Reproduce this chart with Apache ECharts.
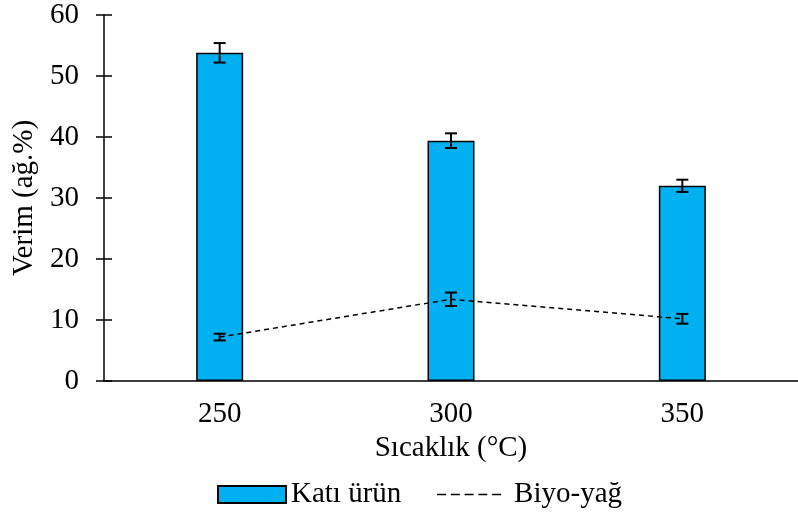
<!DOCTYPE html>
<html><head><meta charset="utf-8">
<script src="https://cdn.jsdelivr.net/npm/echarts@6/dist/echarts.min.js"></script>
<style>html,body{margin:0;padding:0;background:#fff}#c{width:798px;height:517px}</style>
</head><body><div id="c"></div>
<script>
const categories = ['250', '300', '350'];
const katiUrun = [53.8, 39.4, 32.0];
const katiUrunErr = [1.6, 1.2, 1.0];
const biyoYag = [7.2, 13.4, 10.2];
const biyoYagErr = [0.55, 1.1, 0.8];
const yTicks = [0, 10, 20, 30, 40, 50, 60];

const FONT = 'Liberation Serif';
const FS = 29;
const chart = echarts.init(document.getElementById('c'));

function errRender(values, errs) {
  return function (params, api) {
    const i = api.value(0);
    const v = values[i], e = errs[i];
    const top = api.coord([i, v + e]);
    const bot = api.coord([i, v - e]);
    const hw = 6;
    const st = { stroke: '#000', lineWidth: 2 };
    return {
      type: 'group',
      children: [
        { type: 'line', shape: { x1: top[0], y1: top[1], x2: bot[0], y2: bot[1] }, style: st },
        { type: 'line', shape: { x1: top[0] - hw, y1: top[1], x2: top[0] + hw, y2: top[1] }, style: st },
        { type: 'line', shape: { x1: bot[0] - hw, y1: bot[1], x2: bot[0] + hw, y2: bot[1] }, style: st }
      ]
    };
  };
}

const axisLabelStyle = { fontFamily: FONT, fontSize: FS, color: '#000' };

chart.setOption({
  animation: false,
  grid: { left: 104, top: 15, width: 698, height: 366 },
  legend: {
    top: 475, left: 212,
    itemWidth: 68, itemHeight: 17, itemGap: 35,
    textStyle: { fontFamily: FONT, fontSize: FS, color: '#000' },
    data: [
      { name: 'Katı ürün', icon: 'rect', itemStyle: { color: '#00B0F0', borderWidth: 2, borderColor: '#000' } },
      { name: 'Biyo-yağ', itemStyle: { opacity: 0 },
        lineStyle: { color: '#000', width: 1.5, type: [9, 4.75] },
        textStyle: { padding: [0, 0, 0, 4] } }
    ]
  },
  xAxis: [{
    type: 'category', data: categories,
    name: 'Sıcaklık (°C)', nameLocation: 'middle', nameGap: 48,
    nameTextStyle: { fontFamily: FONT, fontSize: FS, color: '#000' },
    axisLine: { lineStyle: { color: '#000', width: 1.5 } },
    axisTick: { alignWithLabel: true, length: 6, lineStyle: { color: '#000', width: 1.5 } },
    axisLabel: Object.assign({ margin: 19 }, axisLabelStyle),
    splitLine: { show: false }
  }, {
    type: 'category', data: categories, position: 'bottom',
    axisLine: { show: false },
    axisTick: { inside: true, alignWithLabel: true, length: 6, lineStyle: { color: '#000', width: 1.5 } },
    axisLabel: { show: false }
  }],
  yAxis: [{
    type: 'value', min: 0, max: 60, interval: 10,
    name: 'Verim (ağ.%)', nameLocation: 'middle', nameGap: 59,
    nameTextStyle: { fontFamily: FONT, fontSize: FS, color: '#000' },
    axisLine: { show: true, lineStyle: { color: '#000', width: 1.5 } },
    axisTick: { show: true, length: 8, lineStyle: { color: '#000', width: 1.5 } },
    axisLabel: Object.assign({ margin: 25, formatter: v => yTicks.includes(v) ? String(v) : '' }, axisLabelStyle),
    splitLine: { show: false }
  }, {
    type: 'value', min: 0, max: 60, interval: 10, position: 'left',
    axisLine: { show: false },
    axisTick: { show: true, inside: true, length: 8, lineStyle: { color: '#000', width: 1.5 } },
    axisLabel: { show: false },
    splitLine: { show: false }
  }],
  series: [{
    name: 'Katı ürün', type: 'bar', data: katiUrun, barWidth: 47,
    itemStyle: { color: '#00B0F0', borderColor: '#000', borderWidth: 1.5 },
    z: 2
  }, {
    name: 'Biyo-yağ', type: 'line', data: biyoYag, symbol: 'none',
    lineStyle: { color: '#000', width: 1.5, type: [5, 4] },
    itemStyle: { color: '#000' },
    z: 3
  }, {
    type: 'custom', data: categories.map((c, i) => [i]),
    renderItem: errRender(katiUrun, katiUrunErr), z: 4, silent: true
  }, {
    type: 'custom', data: categories.map((c, i) => [i]),
    renderItem: errRender(biyoYag, biyoYagErr), z: 4, silent: true
  }]
});
</script></body></html>
